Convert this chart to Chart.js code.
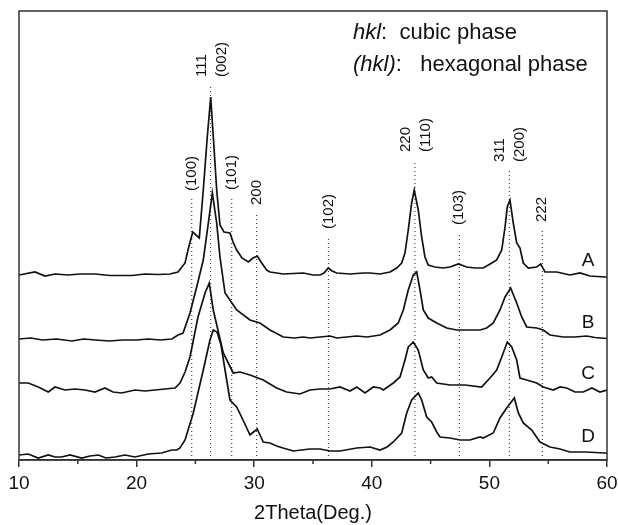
<!DOCTYPE html>
<html>
<head>
<meta charset="utf-8">
<script src="https://cdn.jsdelivr.net/npm/chart.js@4.4.0/dist/chart.umd.min.js"></script>
<style>
  html, body { margin: 0; padding: 0; background: #fff; }
</style>
</head>
<body>
<canvas id="xrd" width="618" height="525"></canvas>
<script>
// XRD patterns, [2theta, intensity (a.u., offset)]
const patternA = [
  [10, 185], [11.36, 188], [12.21, 184], [13.06, 186], [14.17, 185], [15.19, 186], [16.46, 186],
  [17.74, 184.5], [19.61, 184.5], [20.71, 186], [21.82, 185.5], [22.84, 186], [23.52, 188],
  [24.12, 197], [24.37, 210], [24.77, 228], [25.33, 222], [25.67, 270], [25.99, 320], [26.30, 363],
  [26.54, 320], [26.81, 270], [27.09, 235], [27.43, 228], [27.94, 227], [28.20, 218], [28.51, 210],
  [28.96, 202], [29.50, 198], [29.90, 202], [30.26, 204], [30.58, 198], [31.06, 190], [31.34, 188],
  [31.91, 187], [32.47, 186], [33.30, 186.5], [34.18, 187], [35.0, 185], [35.60, 185], [35.94, 187],
  [36.30, 192], [36.62, 189], [37.02, 187], [38.15, 186], [39.28, 187], [39.85, 187], [40.70, 186],
  [41.55, 188], [42.12, 192], [42.54, 197], [42.82, 207], [43.10, 230], [43.39, 257], [43.61, 270],
  [43.95, 250], [44.24, 223], [44.52, 203], [44.80, 195], [45.37, 193], [46.08, 192], [46.65, 193],
  [47.36, 196], [48.07, 193], [48.78, 192], [49.48, 192], [50.20, 197], [50.62, 200], [51.05, 210],
  [51.33, 233], [51.52, 253], [51.75, 260], [52.03, 237], [52.32, 217], [52.60, 212], [52.88, 197],
  [53.31, 192], [54.02, 193], [54.36, 196], [54.73, 188], [55.72, 188], [56.85, 185], [57.70, 187],
  [58.55, 184], [59.83, 183], [60, 183]
];
const patternB = [
  [10, 121], [11.0, 122], [12.0, 120], [13.2, 121], [14.5, 119], [15.5, 121], [16.5, 120],
  [17.7, 119], [18.8, 120], [20.0, 120], [21.0, 121], [22.0, 120], [23.0, 121], [23.52, 125],
  [23.95, 127], [24.54, 147], [25.11, 173], [25.67, 200], [26.10, 237], [26.44, 267], [26.81, 237],
  [27.09, 203], [27.52, 167], [28.51, 150], [29.64, 140], [30.49, 137], [31.34, 130], [32.47, 123],
  [33.40, 122], [34.18, 123], [34.74, 122], [35.60, 123], [36.45, 124], [37.02, 122], [38.72, 124],
  [39.60, 123], [40.70, 125], [41.55, 130], [42.25, 137], [42.68, 150], [43.10, 170], [43.53, 185],
  [43.82, 188], [44.10, 170], [44.38, 150], [44.80, 142], [45.52, 137], [46.37, 132], [47.22, 130],
  [48.35, 130], [49.20, 130], [49.77, 132], [50.33, 137], [50.90, 150], [51.33, 163], [51.81, 172],
  [52.32, 157], [52.75, 143], [53.17, 133], [54.02, 132], [54.58, 130], [55.15, 125], [56.28, 123],
  [57.28, 123], [58.27, 124], [58.98, 122.5], [60, 121.5]
];
const patternC = [
  [10, 77], [10.79, 77], [11.64, 73], [12.49, 68], [13.06, 73], [13.91, 70], [14.76, 71], [15.61, 70],
  [16.46, 68], [17.31, 72], [17.99, 68], [18.73, 67], [19.86, 70], [20.71, 69], [21.56, 70],
  [22.41, 71], [23.27, 72], [23.69, 77], [24.12, 88], [24.54, 103], [25.22, 143], [25.82, 167],
  [26.18, 177], [26.52, 150], [27.37, 107], [28.22, 87], [28.79, 88], [29.64, 85], [30.77, 80],
  [31.91, 72], [32.76, 68], [33.89, 66], [34.74, 70], [35.60, 71], [36.45, 71], [37.30, 73],
  [38.15, 69], [38.72, 73], [39.42, 67], [40.13, 73], [40.70, 72], [40.98, 70], [41.83, 77],
  [42.40, 83], [42.82, 100], [43.10, 113], [43.53, 118], [43.95, 110], [44.38, 90], [44.80, 82],
  [45.09, 83], [45.52, 77], [46.65, 75], [47.93, 75], [49.34, 73], [50.05, 82], [50.62, 90],
  [51.05, 103], [51.52, 118], [51.90, 113], [52.32, 100], [52.60, 82], [53.17, 80], [54.02, 77],
  [54.58, 73], [55.43, 70], [56.0, 73], [56.57, 72], [57.28, 68], [57.98, 68], [58.72, 72],
  [59.40, 68], [60, 70]
];
const patternD = [
  [10, 5], [10.79, 6], [11.64, 2], [12.49, 5], [13.06, 3], [13.63, 3], [14.34, 5], [15.33, 2],
  [16.04, 4], [16.74, 5], [17.40, 2], [18.16, 3], [19.01, 5], [19.86, 3], [20.99, 6], [22.13, 7],
  [22.98, 10], [23.41, 10], [23.69, 12], [24.12, 20], [24.82, 47], [25.67, 90], [26.24, 120],
  [26.52, 130], [26.84, 128], [27.18, 115], [27.52, 90], [27.94, 60], [28.51, 53], [29.05, 40],
  [29.64, 25], [29.94, 28], [30.26, 31], [30.77, 18], [31.34, 17], [31.91, 14], [32.45, 12],
  [33.04, 10], [33.32, 9], [34.74, 11], [35.60, 11], [36.45, 9], [37.30, 9], [38.72, 12],
  [39.85, 13], [40.70, 10], [41.30, 13], [41.83, 18], [42.54, 27], [42.97, 47], [43.39, 60],
  [43.95, 67], [44.24, 60], [44.67, 43], [45.09, 38], [45.52, 28], [45.80, 23], [46.65, 22],
  [47.50, 20], [48.35, 20], [49.20, 23], [49.48, 22], [50.33, 27], [50.90, 42], [51.47, 52],
  [52.12, 62], [52.46, 47], [52.88, 37], [53.60, 30], [54.30, 18], [55.15, 13], [56.0, 11],
  [56.85, 8], [58.13, 8], [59.83, 7], [60, 7]
];
const sampleNames = ['A', 'B', 'C', 'D'];

// reflections: position, top of dotted marker, labels
const reflPos = [24.69, 26.30, 28.09, 30.21, 36.31, 43.67, 47.44, 51.69, 54.50];
const reflTop = [261, 375, 262, 247, 223, 300, 227, 290, 230];
const reflLabels = [['(100)'], ['111', '(002)'], ['(101)'], ['200'], ['(102)'],
                    ['220', '(110)'], ['(103)'], ['311', '(200)'], ['222']];

const FONT = "'Liberation Sans', Arial, Helvetica, sans-serif";
const INK = '#111';

const toXY = p => p.map(([x, y]) => ({ x, y }));
const patterns = [patternA, patternB, patternC, patternD];

const datasets = [];
reflPos.forEach((pos, i) => {
  datasets.push({
    data: [{ x: pos, y: 0 }, { x: pos, y: reflTop[i] }],
    borderColor: '#222',
    borderWidth: 1,
    borderDash: [1, 3],
    pointRadius: 0,
    order: 2
  });
});
patterns.forEach((p, i) => {
  datasets.push({
    label: sampleNames[i],
    data: toXY(p),
    borderColor: INK,
    borderWidth: 1.7,
    pointRadius: 0,
    tension: 0,
    order: 1
  });
});

const decor = {
  id: 'decor',
  afterDraw(chart) {
    const { ctx, chartArea: a, scales: { x, y } } = chart;
    ctx.save();
    // frame
    ctx.strokeStyle = '#333';
    ctx.lineWidth = 1.5;
    ctx.strokeRect(a.left, a.top, a.right - a.left, a.bottom - a.top);

    // minor ticks
    ctx.beginPath();
    for (let v = 15; v < 60; v += 10) {
      const px = x.getPixelForValue(v);
      ctx.moveTo(px, a.bottom);
      ctx.lineTo(px, a.bottom + 4);
    }
    ctx.stroke();

    // reflection labels
    ctx.fillStyle = INK;
    ctx.font = '15px ' + FONT;
    ctx.textBaseline = 'middle';
    ctx.textAlign = 'left';
    reflPos.forEach((pos, i) => {
      const px = x.getPixelForValue(pos);
      const py = y.getPixelForValue(reflTop[i]) - 8;
      const labels = reflLabels[i];
      const offs = labels.length === 2 ? [-9, 11] : [0];
      labels.forEach((t, j) => {
        ctx.save();
        ctx.translate(px + offs[j], py);
        ctx.rotate(-Math.PI / 2);
        ctx.fillText(t, 0, 0);
        ctx.restore();
      });
    });

    // sample names
    ctx.font = '19px ' + FONT;
    ctx.textAlign = 'center';
    sampleNames.forEach((n, i) => {
      const meta = chart.getDatasetMeta(reflPos.length + i);
      const last = meta.data[meta.data.length - 1];
      ctx.fillText(n, x.getPixelForValue(58.4), last.y - 16);
    });

    // phase key
    ctx.textAlign = 'left';
    const kx = a.right - 254;
    const keys = [['hkl', ':  cubic phase'], ['(hkl)', ':   hexagonal phase']];
    keys.forEach(([it, rest], i) => {
      const ky = a.top + 22 + i * 32;
      ctx.font = 'italic 22px ' + FONT;
      ctx.fillText(it, kx, ky);
      const w = ctx.measureText(it).width;
      ctx.font = '22px ' + FONT;
      ctx.fillText(rest, kx + w, ky);
    });
    ctx.restore();
  }
};

new Chart(document.getElementById('xrd'), {
  type: 'line',
  data: { datasets },
  options: {
    responsive: false,
    animation: false,
    devicePixelRatio: 1,
    layout: { padding: { left: 19, right: 11, top: 11, bottom: 0 } },
    plugins: { legend: { display: false }, tooltip: { enabled: false } },
    scales: {
      x: {
        type: 'linear',
        min: 10,
        max: 60,
        afterFit: s => { s.height = 65; s.paddingLeft = 0; s.paddingRight = 0; },
        ticks: {
          stepSize: 10,
          autoSkip: false,
          maxRotation: 0,
          padding: 5,
          color: INK,
          font: { family: FONT, size: 19 }
        },
        grid: { drawOnChartArea: false, tickLength: 7, color: '#333', lineWidth: 1.5 },
        border: { color: '#333', width: 1.5 },
        title: {
          display: true,
          text: '2Theta(Deg.)',
          color: INK,
          padding: { top: 0, bottom: 0 },
          font: { family: FONT, size: 20 }
        }
      },
      y: {
        display: false,
        min: 0,
        max: 449
      }
    }
  },
  plugins: [decor]
});
</script>
</body>
</html>
